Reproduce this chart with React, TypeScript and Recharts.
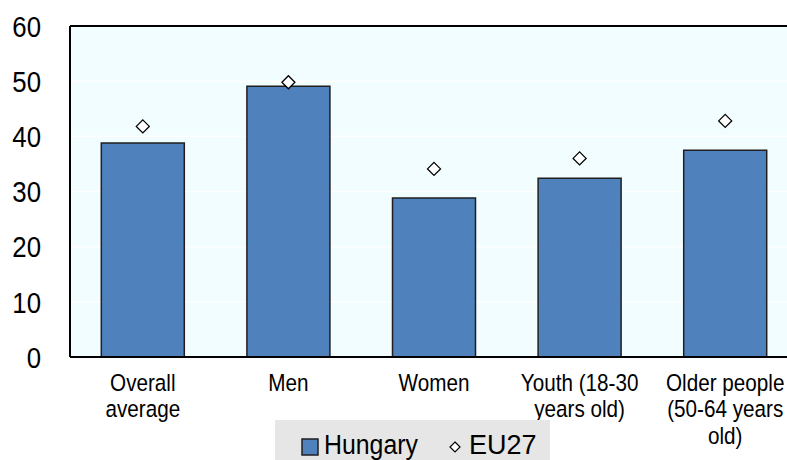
import React from "react";
import {
  ComposedChart,
  Bar,
  Line,
  XAxis,
  YAxis,
  CartesianGrid,
  ReferenceLine,
} from "recharts";

// Categories, with manual line breaks for the axis labels
const categories = [
  "Overall\naverage",
  "Men",
  "Women",
  "Youth (18-30\nyears old)",
  "Older people\n(50-64 years\nold)",
];
const hungary = [38.8, 49.1, 28.8, 32.4, 37.5];
const eu27 = [41.8, 49.8, 34.1, 36.0, 42.8];
const yTicks = [0, 10, 20, 30, 40, 50, 60];

const chartData = categories.map((name, i) => ({
  name,
  hungary: hungary[i],
  eu27: eu27[i],
}));

const FONT = '"Liberation Sans", Arial, sans-serif';
const BAR_BLUE = "#4F81BD";
// the text is a slightly condensed Arial, so squeeze it horizontally
const SQUEEZE = 0.88;

const CategoryTick = ({ x, y, payload }: any) => {
  const lines = String(payload.value).split("\n");
  return (
    <g transform={`translate(${x},${y}) scale(${SQUEEZE},1)`}>
      <text
        x={0}
        y={0}
        textAnchor="middle"
        fontFamily={FONT}
        fontSize={23.5}
        fill="#000"
      >
        {lines.map((line, i) => (
          <tspan key={i} x={0} dy={i === 0 ? 26 : 26.5}>
            {line}
          </tspan>
        ))}
      </text>
    </g>
  );
};

const ValueTick = ({ x, y, payload }: any) => (
  <g transform={`translate(${x},${y}) scale(0.86,1)`}>
    <text
      x={0}
      y={0}
      dy="0.36em"
      textAnchor="end"
      fontFamily={FONT}
      fontSize={30}
      fill="#000"
    >
      {payload.value}
    </text>
  </g>
);

const Diamond = ({ cx, cy }: any) => {
  if (cx == null || cy == null) return null;
  const r = 6.5;
  return (
    <polygon
      points={`${cx},${cy - r} ${cx + r},${cy} ${cx},${cy + r} ${cx - r},${cy}`}
      fill="#fff"
      stroke="#000"
      strokeWidth={1.3}
    />
  );
};

const legendText: React.CSSProperties = {
  position: "absolute",
  top: 9,
  lineHeight: "32px",
  transformOrigin: "left center",
  whiteSpace: "nowrap",
};

export default function App() {
  return (
    <div
      style={{
        position: "absolute",
        left: 0,
        top: 0,
        width: 787,
        height: 460,
        overflow: "hidden",
        background: "#fff",
      }}
    >
      <ComposedChart
        width={810}
        height={460}
        data={chartData}
        margin={{ top: 26, right: 12, left: 0, bottom: 0 }}
        barCategoryGap="21.5%"
      >
        <CartesianGrid
          vertical={false}
          stroke="#ffffff"
          strokeWidth={1.5}
          fill="#F1FDFE"
        />
        <XAxis
          dataKey="name"
          interval={0}
          height={103}
          tickLine={false}
          axisLine={{ stroke: "#000", strokeWidth: 2 }}
          tick={<CategoryTick />}
        />
        <YAxis
          width={70}
          domain={[0, 60]}
          ticks={yTicks}
          tickLine={false}
          tickSize={0}
          tickMargin={29}
          axisLine={{ stroke: "#000", strokeWidth: 2 }}
          tick={<ValueTick />}
        />
        <ReferenceLine y={60} stroke="#000" strokeWidth={2} />
        <Bar
          dataKey="hungary"
          fill={BAR_BLUE}
          stroke="#1f1f1f"
          strokeWidth={1.5}
          isAnimationActive={false}
        />
        <Line
          dataKey="eu27"
          stroke="none"
          dot={<Diamond />}
          activeDot={false}
          isAnimationActive={false}
        />
      </ComposedChart>

      {/* legend */}
      <div
        style={{
          position: "absolute",
          left: 275,
          top: 420,
          width: 275,
          height: 50,
          background: "#E6E6E6",
          fontFamily: FONT,
          fontSize: 27,
          color: "#000",
        }}
      >
        <svg
          width={18}
          height={18}
          style={{ position: "absolute", left: 26, top: 18 }}
        >
          <rect x={1} y={1} width={16} height={16} fill={BAR_BLUE} stroke="#1f1f1f" strokeWidth={1.5} />
        </svg>
        <span style={{ ...legendText, left: 49, transform: "scaleX(0.92)" }}>
          Hungary
        </span>
        <svg
          width={14}
          height={14}
          style={{ position: "absolute", left: 173, top: 20 }}
        >
          <polygon points="7,2 12,7 7,12 2,7" fill="#fff" stroke="#000" strokeWidth={1.2} />
        </svg>
        <span style={{ ...legendText, left: 194 }}>EU27</span>
      </div>
    </div>
  );
}
